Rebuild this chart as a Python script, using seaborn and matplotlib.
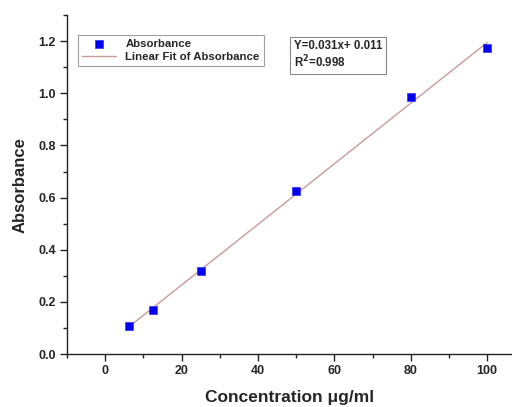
import numpy as np
import pandas as pd
import seaborn as sns
import matplotlib
matplotlib.use("Agg")
import matplotlib.pyplot as plt
from matplotlib.ticker import MultipleLocator

concentration = [6.25, 12.5, 25, 50, 80, 100]
absorbance = [0.107, 0.169, 0.318, 0.625, 0.985, 1.173]
equation_text = "Y=0.031x+ 0.011\nR$^{2}$=0.998"

sns.set_style("ticks")
plt.rcParams['font.family'] = ['Liberation Sans', 'DejaVu Sans']
plt.rcParams['font.weight'] = 'bold'

df = pd.DataFrame({"Concentration": concentration, "Absorbance": absorbance})
slope, intercept = np.polyfit(df["Concentration"], df["Absorbance"], 1)
fit_x = np.array([min(concentration), max(concentration)])
fit_df = pd.DataFrame({"x": fit_x, "y": slope * fit_x + intercept})

fig = plt.figure(figsize=(5.12, 4.07), dpi=100)
ax = fig.add_axes([0.131, 0.130, 0.869, 0.833])

sns.lineplot(data=fit_df, x="x", y="y", ax=ax, color="#c99a9a", linewidth=1.0,
             label="Linear Fit of Absorbance", zorder=2)
sns.scatterplot(data=df, x="Concentration", y="Absorbance", ax=ax, marker="s",
                color="#0000ee", s=40, edgecolor="#3030ff", linewidth=0.5,
                label="Absorbance", zorder=3)

ax.set_xlim(-10, 106.5)
ax.set_ylim(0, 1.3)
ax.xaxis.set_major_locator(MultipleLocator(20))
ax.xaxis.set_minor_locator(MultipleLocator(10))
ax.yaxis.set_minor_locator(MultipleLocator(0.1))
ax.set_yticks([0, 0.2, 0.4, 0.6, 0.8, 1.0, 1.2])
ax.yaxis.set_major_formatter(matplotlib.ticker.FormatStrFormatter('%.1f'))
ax.tick_params(axis='both', which='major', direction='out', length=5, width=1,
               labelsize=9, color='#222222', pad=3)
ax.tick_params(axis='both', which='minor', direction='out', length=3, width=1, color='#222222')
for lbl in ax.get_xticklabels() + ax.get_yticklabels():
    lbl.set_fontweight('bold')
sns.despine(ax=ax, top=True, right=True)
for sp in ['left', 'bottom']:
    ax.spines[sp].set_linewidth(1.0)
    ax.spines[sp].set_color('#222222')

ax.set_xlabel("Concentration \u03bcg/ml", fontsize=12.5, fontweight='bold', labelpad=9)
ax.set_ylabel("Absorbance", fontsize=12, fontweight='bold', labelpad=8)

handles, labels = ax.get_legend_handles_labels()
order = [labels.index("Absorbance"), labels.index("Linear Fit of Absorbance")]
leg = ax.legend([handles[i] for i in order], [labels[i] for i in order],
                loc='upper left', bbox_to_anchor=(0.012, 0.958), frameon=True,
                fancybox=False, edgecolor='#888888', handlelength=3.0,
                borderpad=0.35, labelspacing=0.25, prop={'weight': 'bold', 'size': 8.2})
leg.get_frame().set_linewidth(0.8)

ax.text(0.51, 0.925, equation_text, transform=ax.transAxes, fontsize=8.3,
        fontweight='bold', va='top', ha='left', linespacing=1.1,
        bbox=dict(boxstyle='square,pad=0.33', facecolor='white', edgecolor='#888888', linewidth=0.8))

fig.savefig("out.png", dpi=100)
